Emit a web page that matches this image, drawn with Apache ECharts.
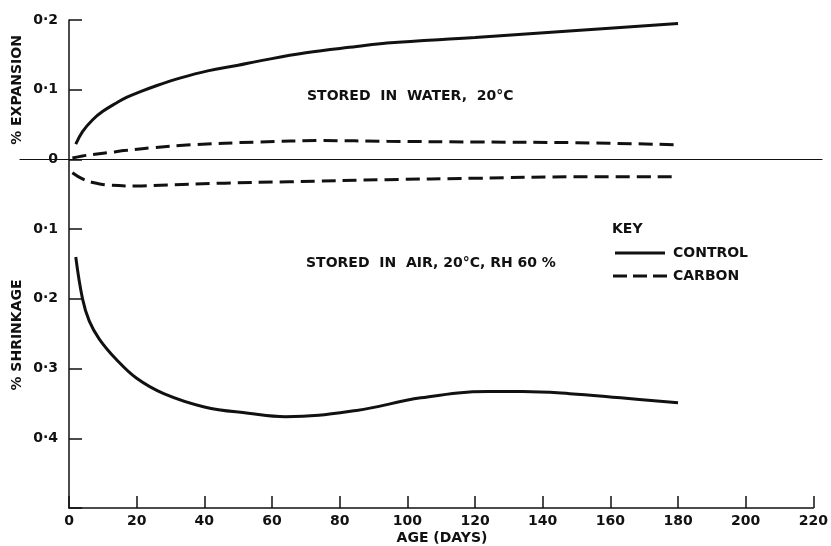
<!DOCTYPE html>
<html><head><meta charset="utf-8">
<script src="https://cdn.jsdelivr.net/npm/echarts@6/dist/echarts.min.js"></script>
<style>html,body{margin:0;padding:0;background:#fff}#c{width:831px;height:546px}</style>
</head><body><div id="c"></div>
<script>
// ---- data (day, % change: expansion positive, shrinkage negative) ----
const controlWater = [[2,0.022],[4,0.040],[7,0.057],[10,0.069],[14,0.081],[17,0.089],[20,0.095],[26,0.106],[33,0.117],[41,0.127],[50,0.135],[56,0.141],[70,0.153],[85,0.162],[94,0.167],[120,0.175],[150,0.185],[180,0.195]];
const carbonWater = [[1,0.002],[4,0.005],[7,0.007],[12,0.010],[17,0.013],[25,0.017],[36,0.021],[56,0.025],[75,0.027],[94,0.026],[120,0.025],[150,0.024],[180,0.021]];
const carbonAir = [[1,-0.019],[4,-0.028],[7,-0.033],[12,-0.037],[20,-0.038],[27,-0.037],[46,-0.034],[65,-0.032],[94,-0.029],[120,-0.027],[150,-0.025],[180,-0.025]];
const controlAir = [[2,-0.14],[4,-0.2],[6,-0.232],[9,-0.258],[14,-0.287],[20,-0.314],[28,-0.336],[40,-0.355],[53,-0.364],[64,-0.369],[85,-0.36],[104,-0.342],[124,-0.333],[134,-0.333],[148,-0.336],[163,-0.342],[180,-0.349]];
const yTickValues = [0.2, 0.1, 0, -0.1, -0.2, -0.3, -0.4];
const yTickLabels = ['0·2', '0·1', '0', '0·1', '0·2', '0·3', '0·4'];
const xTickValues = [0,20,40,60,80,100,120,140,160,180,200,220];

const FONT = 'DejaVu Sans';
const INK = '#111';
const FS = 14;
const chart = echarts.init(document.getElementById('c'), null, {renderer: 'canvas'});
const lineStyleSolid = {color: INK, width: 3, type: 'solid'};
const lineStyleDash = {color: INK, width: 3, type: [14, 7]};
function yLab(v) {
  for (let i = 0; i < yTickValues.length; i++) if (Math.abs(v - yTickValues[i]) < 1e-6) return yTickLabels[i];
  return '';
}
const txt = {fontFamily: FONT, fontSize: FS, color: INK, fontWeight: 'bold'};
function label(x, y, text, align, rot) {
  return {type: 'text', x: x, y: y, rotation: rot || 0,
    style: {text: text, fontFamily: FONT, fontSize: FS, fontWeight: 'bold', fill: INK, align: align, verticalAlign: 'middle'}};
}
chart.setOption({
  backgroundColor: '#fff',
  animation: false,
  grid: [
    {left: 69, right: 14, top: 20, bottom: 38},
    {left: 20, right: 9, top: 20, bottom: 38}
  ],
  xAxis: [
    {type: 'value', gridIndex: 0, min: 0, max: 220, interval: 20,
     axisLine: {onZero: false, lineStyle: {color: INK, width: 1.5}},
     axisTick: {inside: true, length: 12, lineStyle: {color: INK, width: 1.5}},
     axisLabel: Object.assign({margin: 6, formatter: v => xTickValues.includes(v) ? String(v) : ''}, txt),
     splitLine: {show: false}},
    {type: 'value', gridIndex: 1, min: 0, max: 1,
     axisLine: {onZero: true, lineStyle: {color: INK, width: 1.2}},
     axisTick: {show: false}, axisLabel: {show: false}, splitLine: {show: false}}
  ],
  yAxis: [
    {type: 'value', gridIndex: 0, min: -0.5, max: 0.2, interval: 0.1,
     axisLine: {show: true, onZero: false, lineStyle: {color: INK, width: 1.5}},
     axisTick: {show: true, inside: true, length: 13, lineStyle: {color: INK, width: 1.5}},
     axisLabel: Object.assign({margin: 11, formatter: yLab}, txt),
     splitLine: {show: false}},
    {type: 'value', gridIndex: 1, min: -0.5, max: 0.2, show: false, splitLine: {show: false}}
  ],
  legend: {
    data: [
      {name: 'CONTROL', icon: 'path://M0,0h50v3h-50z'},
      {name: 'CARBON', icon: 'path://M0,0h14v3h-14z M20,0h14v3h-14z M40,0h14v3h-14z'}
    ],
    orient: 'vertical', left: 613, top: 246, padding: 0,
    itemWidth: 56, itemHeight: 3, itemGap: 9,
    itemStyle: {color: INK, borderWidth: 0},
    textStyle: {fontFamily: FONT, fontSize: FS, fontWeight: 'bold', color: INK, padding: [0,0,0,0]}
  },
  graphic: [
    label(17, 90, '% EXPANSION', 'center', Math.PI / 2),
    label(17, 335, '% SHRINKAGE', 'center', Math.PI / 2),
    label(442, 538, 'AGE (DAYS)', 'center'),
    label(307, 96, 'STORED  IN  WATER,  20°C', 'left'),
    label(306, 263, 'STORED  IN  AIR, 20°C, RH 60 %', 'left'),
    label(612, 229, 'KEY', 'left')
  ],
  series: [
    {name: 'CONTROL', type: 'line', xAxisIndex: 0, yAxisIndex: 0, data: controlWater, smooth: 0.4, showSymbol: false, symbol: 'none', lineStyle: lineStyleSolid, itemStyle: {color: INK}},
    {name: 'CARBON', type: 'line', xAxisIndex: 0, yAxisIndex: 0, data: carbonWater, smooth: 0.4, showSymbol: false, symbol: 'none', lineStyle: lineStyleDash, itemStyle: {color: INK}},
    {name: 'CARBON', type: 'line', xAxisIndex: 0, yAxisIndex: 0, data: carbonAir, smooth: 0.4, showSymbol: false, symbol: 'none', lineStyle: lineStyleDash, itemStyle: {color: INK}},
    {name: 'CONTROL', type: 'line', xAxisIndex: 0, yAxisIndex: 0, data: controlAir, smooth: 0.4, showSymbol: false, symbol: 'none', lineStyle: lineStyleSolid, itemStyle: {color: INK}}
  ]
});
</script></body></html>
